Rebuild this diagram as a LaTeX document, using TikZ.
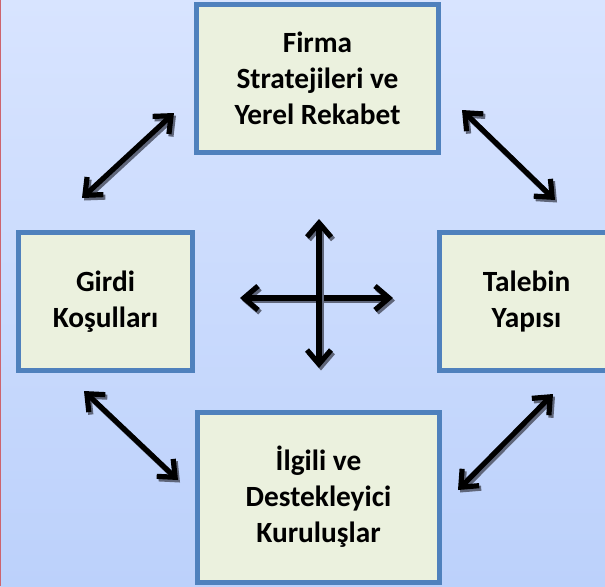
\documentclass[tikz,border=0pt]{standalone}
\usepackage{fontspec}
\setmainfont{Carlito}
\usetikzlibrary{arrows.meta}
\definecolor{bgtop}{RGB}{216,228,255}
\definecolor{bgbot}{RGB}{188,209,251}
\definecolor{kfill}{RGB}{235,241,222}
\definecolor{kline}{RGB}{79,129,189}
\definecolor{shd}{RGB}{95,102,122}
\definecolor{redge}{RGB}{205,100,110}

\begin{document}
\begin{tikzpicture}[x=0.75pt,y=-0.75pt,
  k/.style={rectangle,draw=kline,fill=kfill,line width=3.75pt,align=center,
    font=\bfseries\fontsize{22}{27}\selectfont},
  a/.style={line width=3.9pt,{Straight Barb[length=10.5pt,width=18pt]}-{Straight Barb[length=10.5pt,width=18pt]}},
  sh/.style={a,draw=shd}]
  \fill[top color=bgtop,bottom color=bgbot] (0,0) rectangle (605,586);
  \useasboundingbox (0,0) rectangle (605,586);
  \draw[redge,line width=1.5pt] (0,0) -- (0,586);

  \node[k,minimum width=181.5pt,minimum height=111pt] (fs) at (317.5,78.5) {Firma\\Stratejileri ve\\Yerel Rekabet};
  \node[k,minimum width=130.5pt,minimum height=103.5pt] (gk) at (105.5,301.5) {Girdi\\Koşulları};
  \node[k,minimum width=130.5pt,minimum height=103.5pt] (ty) at (526.5,301.5) {Talebin\\Yapısı};
  \node[k,minimum width=181.5pt,minimum height=127.5pt] (ik) at (318.5,497) {İlgili ve\\Destekleyici\\Kuruluşlar};

  % arrow ends
  \coordinate (gk-n) at (82,198);  \coordinate (fs-w) at (174,113);
  \coordinate (fs-e) at (462,110); \coordinate (ty-n) at (555,200);
  \coordinate (gk-s) at (84,391);  \coordinate (ik-w) at (178,480);
  \coordinate (ik-e) at (458,490); \coordinate (ty-s) at (553,394);
  \coordinate (c-l) at (240,298);  \coordinate (c-r) at (393,298);
  \coordinate (c-t) at (319,219);  \coordinate (c-b) at (319,368);

  \foreach \p/\q in {gk-n/fs-w,fs-e/ty-n,gk-s/ik-w,ik-e/ty-s,c-l/c-r,c-t/c-b}{
    \draw[sh] ([shift={(2,2.5)}]\p) -- ([shift={(2,2.5)}]\q);
    \draw[a] (\p) -- (\q);
  }
\end{tikzpicture}
\end{document}
